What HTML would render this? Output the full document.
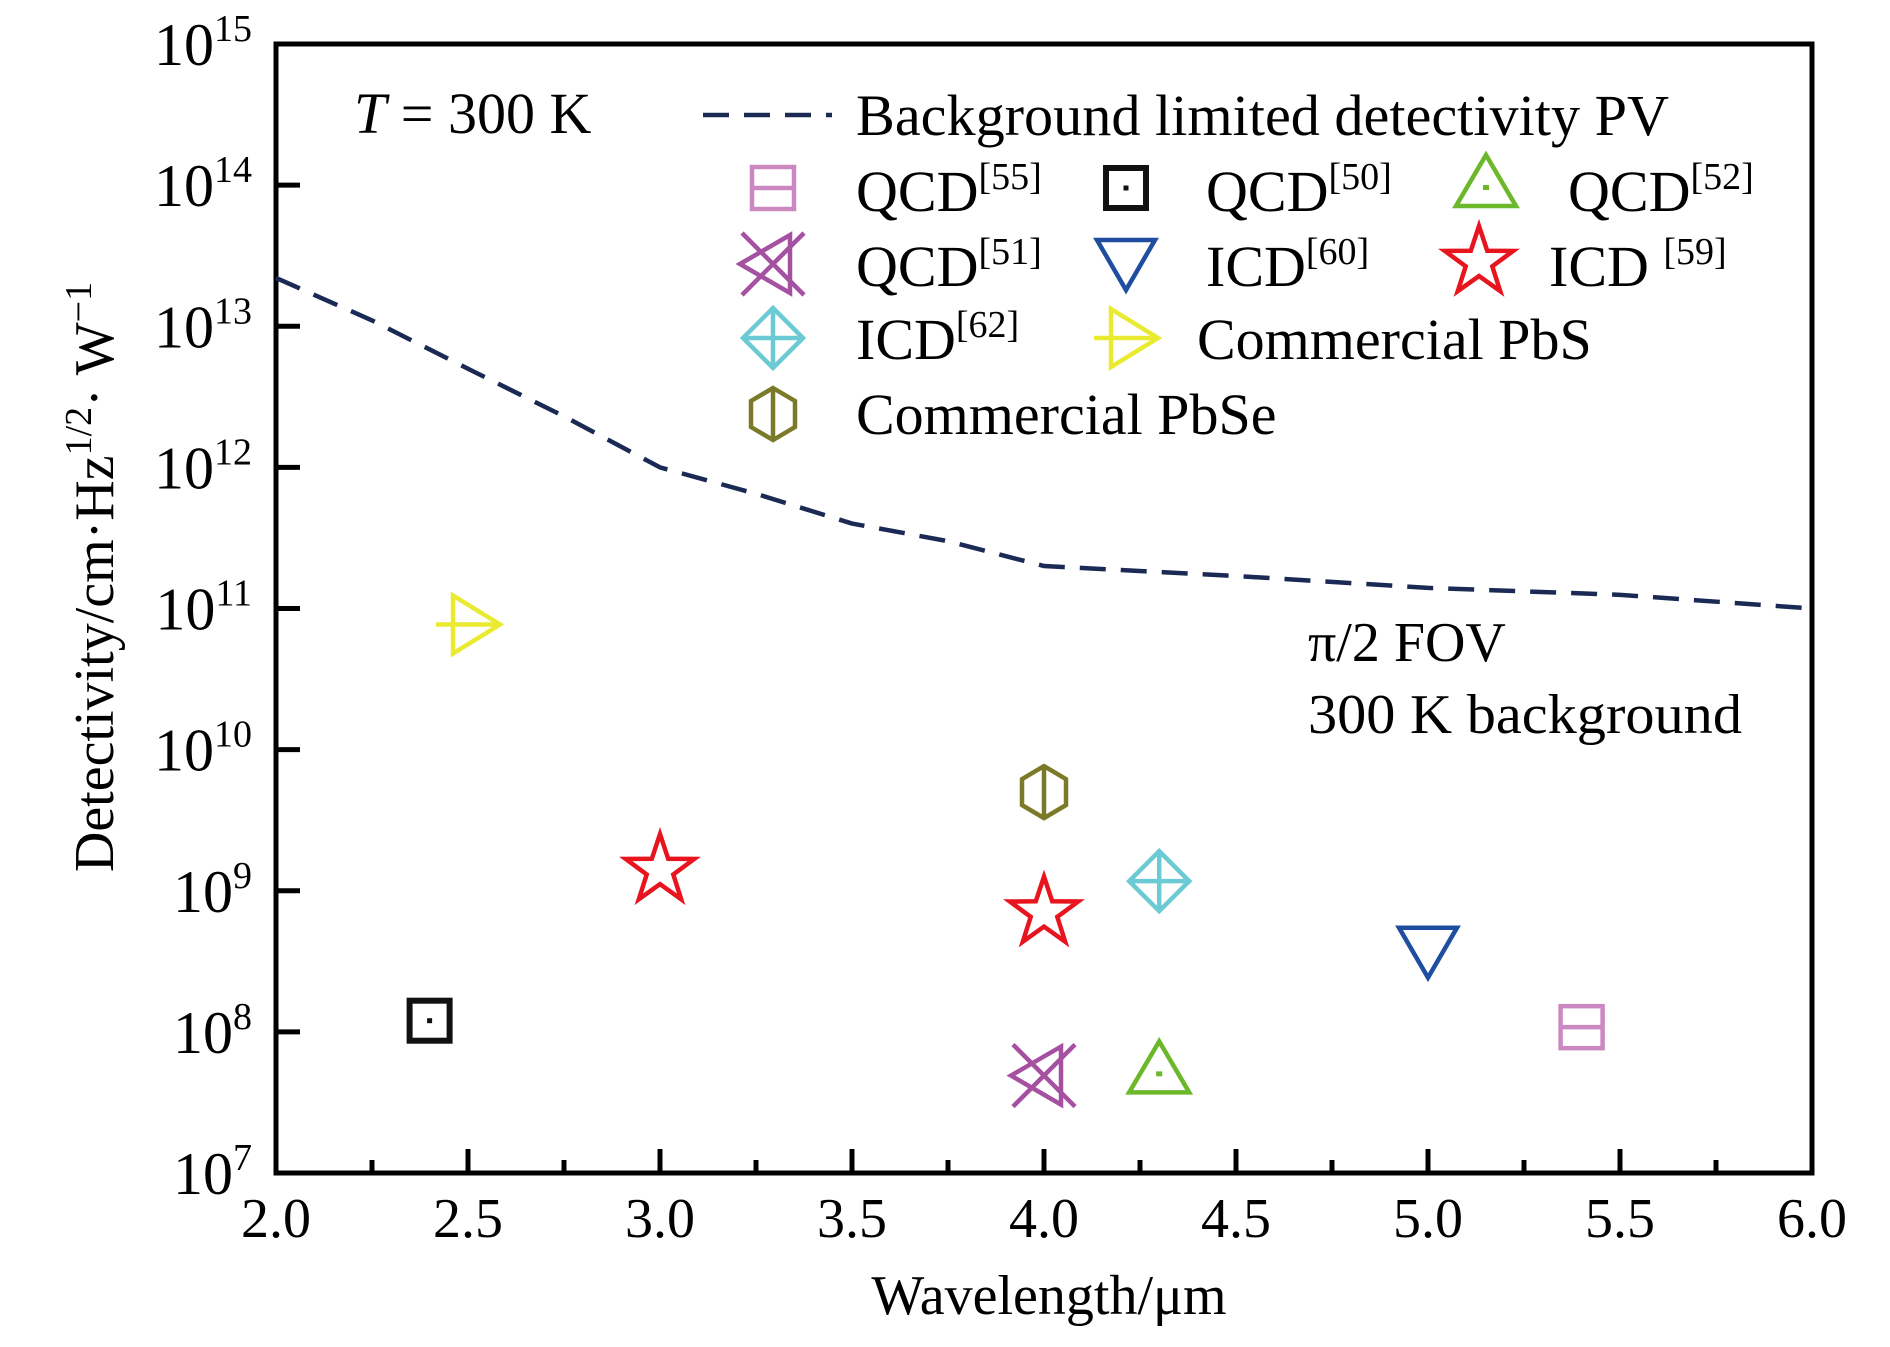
<!DOCTYPE html>
<html><head><meta charset="utf-8"><style>
html,body{margin:0;padding:0;background:#fff;}
svg{display:block;font-family:"Liberation Serif",serif;}
</style></head><body>
<svg id="chart" width="1890" height="1347" viewBox="0 0 1890 1347" xmlns="http://www.w3.org/2000/svg">
<g id="axes"></g>
<g id="curve"></g>
<g id="marks"></g>
<g id="legend"></g>
<text x="354" y="133" font-size="58"><tspan font-style="italic">T</tspan> = 300 K</text>
<text x="1308" y="661" font-size="56">π/2 FOV</text>
<text x="1308" y="733" font-size="56" textLength="434" lengthAdjust="spacingAndGlyphs">300 K background</text>
<text x="1049" y="1314" font-size="56" text-anchor="middle">Wavelength/μm</text>
<text transform="translate(113,577) rotate(-90)" font-size="56" text-anchor="middle">Detectivity/cm·Hz<tspan font-size="38" dy="-22">1/2</tspan><tspan dy="22">· W</tspan><tspan font-size="38" dy="-22">−1</tspan></text>
</svg>
<script>
const xTicks=[2.0,2.5,3.0,3.5,4.0,4.5,5.0,5.5,6.0];
const xTickLabels=["2.0","2.5","3.0","3.5","4.0","4.5","5.0","5.5","6.0"];
const yExps=[7,8,9,10,11,12,13,14,15];
const curveX=[2.0,2.25,2.5,2.75,3.0,3.25,3.5,3.75,4.0,4.5,5.0,5.5,6.0];
const curveY=[2.2e13,1.1e13,5e12,2.3e12,1e12,6.5e11,4e11,3e11,2e11,1.7e11,1.4e11,1.25e11,1e11];
const seriesNames=["QCD55","QCD50","QCD52","QCD51","ICD60","ICD59","ICD62","PbS","PbSe"];
const ptX=[[5.4],[2.4],[4.3],[4.0],[5.0],[3.0,4.0],[4.3],[2.5],[4.0]];
const ptY=[[1.08e8],[1.2e8],[5.0e7],[4.9e7],[3.7e8],[1.4e9,7e8],[1.17e9],[7.7e10],[5e9]];

const X0=276,X1=1812,Y0=1173,Y1=44;
const xs=v=>X0+(v-2)/4*(X1-X0);
const ys=v=>Y0-(Math.log10(v)-7)/8*(Y0-Y1);
const NS="http://www.w3.org/2000/svg";
function mk(tag,attrs,parent){const e=document.createElementNS(NS,tag);for(const k in attrs)e.setAttribute(k,attrs[k]);parent.appendChild(e);return e;}
const axes=document.getElementById('axes');
const frame=mk('rect',{x:X0,y:Y1,width:X1-X0,height:Y0-Y1,fill:'none',stroke:'#000','stroke-width':5},axes);


xTicks.forEach((t,i)=>{
  const x=xs(t);
  const tk=mk('line',{x1:x,x2:x,y1:Y0,y2:Y0-24,stroke:'#000','stroke-width':5},axes);
  
  
  if(i<xTicks.length-1){const xm=xs(t+0.25);
    const mt=mk('line',{x1:xm,x2:xm,y1:Y0,y2:Y0-13,stroke:'#000','stroke-width':5},axes);
    
    }
  const lb=mk('text',{x:x,y:1237,'font-size':56,'text-anchor':'middle'},axes);
  lb.textContent=xTickLabels[i];
  
  
});
yExps.forEach(e=>{
  const y=ys(Math.pow(10,e));
  if(e>7&&e<15){const tk=mk('line',{x1:X0,x2:X0+24,y1:y,y2:y,stroke:'#000','stroke-width':5},axes);
    
    }
  const lb=mk('text',{x:252,y:y+21,'font-size':60,'text-anchor':'end'},axes);
  
  
  const a=mk('tspan',{},lb);a.textContent='10';
  const b=mk('tspan',{'font-size':38,dy:-24},lb);b.textContent=String(e);
});
const curve=document.getElementById('curve');
const pl=mk('polyline',{points:curveX.map((x,i)=>xs(x)+','+ys(curveY[i])).join(' '),fill:'none',stroke:'#1b2a55','stroke-width':4.5,'stroke-dasharray':'26,15'},curve);



const colors={QCD55:'#cc88c0',QCD50:'#111',QCD52:'#6bb82a',QCD51:'#a550a0',ICD60:'#1f4ea0',ICD59:'#e8141e',ICD62:'#6ccad4',PbS:'#eaea30',PbSe:'#7a7a28'};
function marker(type,cx,cy,parent){
  const g=mk('g',{fill:'none',stroke:colors[type],'stroke-width':4.5},parent);
  if(type==='QCD55'){mk('rect',{x:cx-21,y:cy-21,width:42,height:42},g);mk('line',{x1:cx-21,x2:cx+21,y1:cy,y2:cy},g);}
  else if(type==='QCD50'){g.setAttribute('stroke-width',6);mk('rect',{x:cx-20,y:cy-20,width:40,height:40},g);mk('rect',{x:cx-2.5,y:cy-2.5,width:5,height:5,fill:'#111',stroke:'none'},g);}
  else if(type==='QCD52'){mk('polygon',{points:`${cx},${cy-33} ${cx+30},${cy+18} ${cx-30},${cy+18}`},g);mk('rect',{x:cx-3,y:cy-3,width:6,height:5,fill:colors[type],stroke:'none'},g);}
  else if(type==='QCD51'){mk('line',{x1:cx-31,y1:cy-31,x2:cx+31,y2:cy+31},g);mk('line',{x1:cx-31,y1:cy+31,x2:cx+31,y2:cy-31},g);mk('polygon',{points:`${cx-33},${cy} ${cx+17},${cy-29} ${cx+17},${cy+29}`},g);}
  else if(type==='ICD60'){mk('polygon',{points:`${cx-29},${cy-24} ${cx+29},${cy-24} ${cx},${cy+26}`},g);}
  else if(type==='ICD59'){let p=[];for(let k=0;k<10;k++){const r=k%2?14:36;const a=-Math.PI/2+k*Math.PI/5;p.push((cx+r*Math.cos(a)).toFixed(1)+','+(cy+r*Math.sin(a)).toFixed(1));}mk('polygon',{points:p.join(' ')},g);}
  else if(type==='ICD62'){mk('polygon',{points:`${cx},${cy-30} ${cx+30},${cy} ${cx},${cy+30} ${cx-30},${cy}`},g);mk('line',{x1:cx-30,x2:cx+30,y1:cy,y2:cy},g);mk('line',{x1:cx,x2:cx,y1:cy-30,y2:cy+30},g);}
  else if(type==='PbS'){mk('polygon',{points:`${cx-15},${cy-29} ${cx+32},${cy} ${cx-15},${cy+29}`},g);mk('line',{x1:cx-32,x2:cx+32,y1:cy,y2:cy},g);}
  else if(type==='PbSe'){mk('polygon',{points:`${cx},${cy-26} ${cx+22},${cy-13} ${cx+22},${cy+13} ${cx},${cy+26} ${cx-22},${cy+13} ${cx-22},${cy-13}`},g);mk('line',{x1:cx,x2:cx,y1:cy-26,y2:cy+26},g);}
  return g;
}
const marks=document.getElementById('marks');
seriesNames.forEach((s,i)=>{
  ptX[i].forEach((x,j)=>{
    const g=marker(s,xs(x),ys(ptY[i][j]),marks);
    
    
  });
});
const legend=document.getElementById('legend');
const dl=mk('line',{x1:703,x2:832,y1:115,y2:115,stroke:'#1b2a55','stroke-width':4.5,'stroke-dasharray':'26,15'},legend);


const lt=mk('text',{x:856,y:135,'font-size':58,textLength:813,lengthAdjust:'spacingAndGlyphs'},legend);
lt.textContent='Background limited detectivity PV';


const leg=[
 ['QCD55',773,188,856,211,'QCD','[55]'],['QCD50',1126,188,1206,211,'QCD','[50]'],['QCD52',1486,188,1568,211,'QCD','[52]'],
 ['QCD51',773,264,856,286,'QCD','[51]'],['ICD60',1126,264,1206,286,'ICD','[60]'],['ICD59',1479,262,1549,286,'ICD ','[59]'],
 ['ICD62',773,338,856,359,'ICD','[62]'],['PbS',1126,338,1197,359,'Commercial PbS',''],
 ['PbSe',773,414,856,434,'Commercial PbSe','']];
leg.forEach(r=>{
  const g=mk('g',{},legend);
  
  
  marker(r[0],r[1],r[2],g);
  const t=mk('text',{x:r[3],y:r[4],'font-size':58},g);
  const a=mk('tspan',{},t);a.textContent=r[5];
  if(r[6]){const b=mk('tspan',{'font-size':38,dy:-22},t);b.textContent=r[6];}
});
</script>
</body></html>
